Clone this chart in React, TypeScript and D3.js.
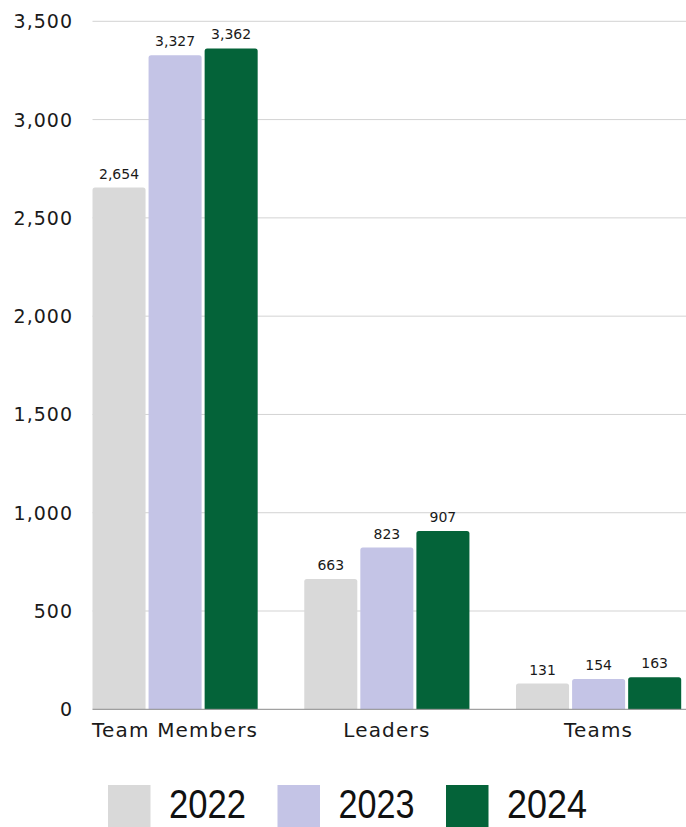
import React from "react";
import * as d3 from "d3";

const categories = ["Team Members", "Leaders", "Teams"];
const seriesNames = ["2022", "2023", "2024"];
const values2022 = [2654, 663, 131];
const values2023 = [3327, 823, 154];
const values2024 = [3362, 907, 163];
const yTicks = [0, 500, 1000, 1500, 2000, 2500, 3000, 3500];
const colors = ["#d9d9d9", "#c4c4e6", "#046339"];

const W = 686;
const H = 827;
const plotLeft = 92.5;
const plotRight = 681.2;
const plotTop = 21.3;
const plotBottom = 709.3;

export default function App() {
  const series = [values2022, values2023, values2024];
  const y = d3.scaleLinear().domain([0, 3500]).range([plotBottom, plotTop]);
  const x0 = d3
    .scaleBand<string>()
    .domain(categories)
    .range([plotLeft, plotRight])
    .paddingInner(0.22)
    .paddingOuter(0);
  const x1 = d3
    .scaleBand<string>()
    .domain(seriesNames)
    .range([0, x0.bandwidth()])
    .paddingInner(0.054)
    .paddingOuter(0);
  const fmt = d3.format(",");
  const font = "'DejaVu Sans', sans-serif";
  const r = 2.5;

  const barPath = (x: number, w: number, yTop: number, yBot: number) => {
    const h = yBot - yTop;
    const rr = Math.min(r, h / 2, w / 2);
    return `M${x},${yBot} L${x},${yTop + rr} Q${x},${yTop} ${x + rr},${yTop} L${x + w - rr},${yTop} Q${x + w},${yTop} ${x + w},${yTop + rr} L${x + w},${yBot} Z`;
  };

  const legendX = [108, 277.5, 446];
  const legendTextW = [77, 76, 80];

  return (
    <svg width={W} height={H} style={{ position: "absolute", left: 0, top: 0 }}>
      <rect width={W} height={H} fill="#ffffff" />
      {yTicks.map((t) =>
        t === 0 ? null : (
          <line key={"g" + t} x1={plotLeft} x2={W} y1={y(t)} y2={y(t)} stroke="#d3d3d3" strokeWidth={1} />
        )
      )}
      {yTicks.map((t) => (
        <text
          key={"t" + t}
          x={73}
          y={y(t)}
          textAnchor="end"
          dominantBaseline="central"
          fontFamily={font}
          fontSize={19}
          letterSpacing={1}
          fill="#1a1a1a"
        >
          {fmt(t)}
        </text>
      ))}
      {categories.map((c, ci) => (
        <g key={c} transform={`translate(${x0(c)},0)`}>
          {seriesNames.map((s, si) => {
            const v = series[si][ci];
            const bx = x1(s)!;
            const bw = x1.bandwidth();
            return (
              <g key={s}>
                <path d={barPath(bx, bw, y(v), y(0))} fill={colors[si]} />
                <text
                  x={bx + bw / 2}
                  y={y(v) - 9}
                  textAnchor="middle"
                  fontFamily={font}
                  fontSize={14}
                  fill="#1a1a1a"
                >
                  {fmt(v)}
                </text>
              </g>
            );
          })}
          <text
            x={x0.bandwidth() / 2}
            y={736.5}
            textAnchor="middle"
            fontFamily={font}
            fontSize={20}
            letterSpacing={1.2}
            fill="#1a1a1a"
          >
            {c}
          </text>
        </g>
      ))}
      <line x1={plotLeft} x2={W} y1={y(0)} y2={y(0)} stroke="#8a8a8a" strokeWidth={1} />
      {seriesNames.map((s, si) => (
        <g key={"l" + s}>
          <rect x={legendX[si]} y={785} width={42.5} height={42} fill={colors[si]} />
          <text
            x={legendX[si] + 61}
            y={818}
            fontFamily="'Liberation Sans', sans-serif"
            fontSize={40}
            textLength={legendTextW[si]}
            lengthAdjust="spacingAndGlyphs"
            fill="#111111"
          >
            {s}
          </text>
        </g>
      ))}
    </svg>
  );
}
